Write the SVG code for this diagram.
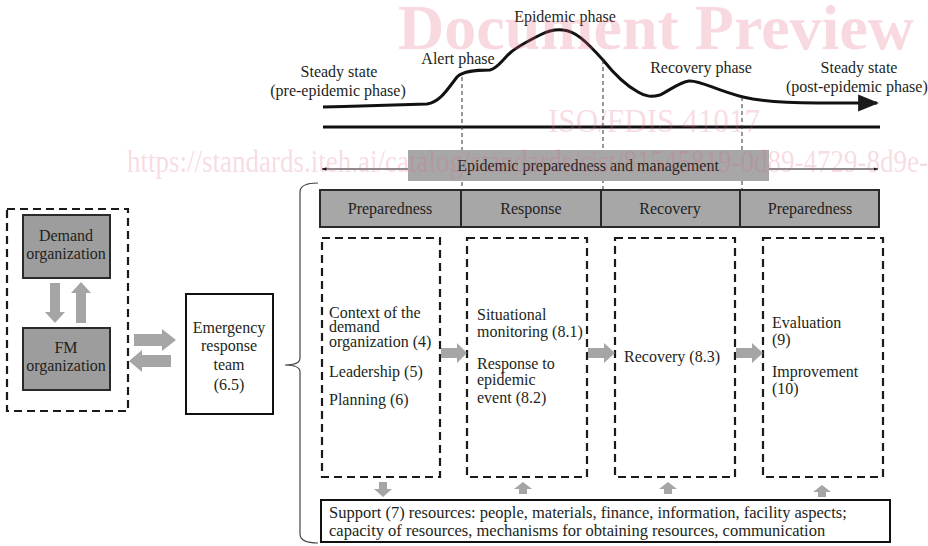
<svg xmlns="http://www.w3.org/2000/svg" width="928" height="546" viewBox="0 0 928 546">
<defs>
<style>
text{font-family:"Liberation Serif","Times New Roman",serif;font-size:16px;fill:#231f20}
.c{text-anchor:middle}
.dash{fill:none;stroke:#1a1a1a;stroke-width:2.2;stroke-dasharray:8,5}
.phase{fill:#a7a7a7;stroke:#2a2a2a;stroke-width:2}
.org{fill:#9d9d9d;stroke:#2a2a2a;stroke-width:2}
.ga{fill:#a5a5a5}
.wm{font-family:"Liberation Serif","Times New Roman",serif;fill:#e0607f;fill-opacity:0.24}
</style>
<marker id="ah" viewBox="0 0 10 10" refX="9" refY="5" markerWidth="7" markerHeight="7" orient="auto-start-reverse">
<path d="M0,1 L10,5 L0,9 z" fill="#1a1a1a"/>
</marker>
<marker id="ahs" viewBox="0 0 10 10" refX="9" refY="5" markerWidth="5" markerHeight="5" orient="auto-start-reverse">
<path d="M0,1.5 L10,5 L0,8.5 z" fill="#1a1a1a"/>
</marker>
</defs>
<rect width="928" height="546" fill="#ffffff"/>

<g id="timeline">
<path d="M323,107 C360,106 400,105 427,104 C440,102 447,90 457,77 C463,71 475,70 490,70 C498,68 503,59 510,53 C518,46 528,41 540,35 C550,30 556,29 563,30 C575,31 585,40 603,60 C615,75 625,85 638,92 C646,97 652,97 660,95 C670,90 680,82 689,81 C700,80 715,90 743,97 C760,101 780,103 817,103 L877,103" fill="none" stroke="#111" stroke-width="3" marker-end="url(#ah)"/>
<line x1="323" y1="127" x2="880" y2="127" stroke="#111" stroke-width="3"/>
<line x1="462" y1="77" x2="462" y2="190" stroke="#333" stroke-width="1" stroke-dasharray="4,3"/>
<line x1="603" y1="60" x2="603" y2="190" stroke="#333" stroke-width="1" stroke-dasharray="4,3"/>
<line x1="742" y1="97" x2="742" y2="190" stroke="#333" stroke-width="1" stroke-dasharray="4,3"/>
<text x="339" y="77" class="c">Steady state</text>
<text x="338" y="96" class="c">(pre-epidemic phase)</text>
<text x="458" y="64" class="c">Alert phase</text>
<text x="565" y="22" class="c">Epidemic phase</text>
<text x="701" y="73" class="c">Recovery phase</text>
<text x="859" y="73" class="c">Steady state</text>
<text x="786" y="92">(post-epidemic phase)</text>
</g>

<g id="epm">
<line x1="322" y1="169" x2="878" y2="169" stroke="#1a1a1a" stroke-width="1" marker-start="url(#ahs)" marker-end="url(#ahs)"/>
<rect x="408" y="150" width="361" height="31" fill="#a7a7a7"/>
<text x="588" y="171" class="c">Epidemic preparedness and management</text>
</g>

<g id="brace">
<path d="M318,183 Q300,183 300,192 L300,358 Q300,365 285,365 Q300,365 300,372 L300,534 Q300,543 318,543" fill="none" stroke="#444" stroke-width="1.2"/>
</g>

<g id="phases">
<rect x="320" y="190" width="141" height="37" class="phase"/>
<rect x="461" y="190" width="140" height="37" class="phase"/>
<rect x="601" y="190" width="139" height="37" class="phase"/>
<rect x="740" y="190" width="139" height="37" class="phase"/>
<text x="390" y="214" class="c">Preparedness</text>
<text x="531" y="214" class="c">Response</text>
<text x="670" y="214" class="c">Recovery</text>
<text x="810" y="214" class="c">Preparedness</text>
</g>

<g id="org-group">
<rect x="7" y="209" width="121" height="202" class="dash"/>
<g id="demand">
<rect x="23" y="215" width="87" height="63" class="org"/>
<text x="66" y="241" class="c">Demand</text>
<text x="66" y="259" class="c">organization</text>
</g>
<g id="fm">
<rect x="23" y="328" width="87" height="62" class="org"/>
<text x="66" y="353" class="c">FM</text>
<text x="66" y="371" class="c">organization</text>
</g>
</g>

<g id="ert">
<rect x="186" y="294" width="87" height="120" fill="#fff" stroke="#111" stroke-width="2"/>
<text x="229" y="333" class="c">Emergency</text>
<text x="229" y="351" class="c">response</text>
<text x="229" y="370" class="c">team</text>
<text x="229" y="390" class="c">(6.5)</text>
</g>

<g id="col1">
<rect x="322" y="238" width="118" height="239" class="dash"/>
<text x="329" y="318">Context of the</text>
<text x="329" y="332">demand</text>
<text x="329" y="347">organization (4)</text>
<text x="329" y="377">Leadership (5)</text>
<text x="329" y="405">Planning (6)</text>
</g>
<g id="col2">
<rect x="467" y="238" width="120" height="239" class="dash"/>
<text x="477" y="320">Situational</text>
<text x="477" y="337">monitoring (8.1)</text>
<text x="477" y="369">Response to</text>
<text x="477" y="385">epidemic</text>
<text x="477" y="403">event (8.2)</text>
</g>
<g id="col3">
<rect x="615" y="238" width="120" height="239" class="dash"/>
<text x="624" y="362">Recovery (8.3)</text>
</g>
<g id="col4">
<rect x="763" y="238" width="120" height="239" class="dash"/>
<text x="772" y="328">Evaluation</text>
<text x="772" y="345">(9)</text>
<text x="772" y="377">Improvement</text>
<text x="772" y="394">(10)</text>
</g>

<g id="support">
<rect x="321" y="500" width="569" height="42" fill="#fff" stroke="#111" stroke-width="2"/>
<text x="329" y="518" style="font-size:16.5px">Support (7) resources: people, materials, finance, information, facility aspects;</text>
<text x="329" y="536" style="font-size:16.5px">capacity of resources, mechanisms for obtaining resources, communication</text>
</g>

<g id="connectors">
<polygon class="ga" points="50,283 60,283 60,312 65,312 55,323 45,312 50,312"/>
<polygon class="ga" points="76,323 86,323 86,293 91,293 81,282 71,293 76,293"/>
<polygon class="ga" points="134,334 162,334 162,329 176,340 162,351 162,346 134,346"/>
<polygon class="ga" points="171,355 142,355 142,350 129,361 142,372 142,367 171,367"/>
<polygon class="ga" points="441,348 457,348 457,343 467,353 457,363 457,358 441,358"/>
<polygon class="ga" points="588,348 604,348 604,343 615,353 604,363 604,358 588,358"/>
<polygon class="ga" points="736,348 752,348 752,343 763,353 752,363 752,358 736,358"/>
<polygon class="ga" points="379,482 387,482 387,489 392,489 383,497 374,489 379,489"/>
<polygon class="ga" points="519,494 527,494 527,489 532,489 523,482 514,489 519,489"/>
<polygon class="ga" points="664,494 672,494 672,489 677,489 668,482 659,489 664,489"/>
<polygon class="ga" points="818,497 826,497 826,492 831,492 822,485 813,492 818,492"/>
</g>

<g id="watermark">
<text x="656" y="49" class="wm c" style="font-size:64px;font-weight:bold">Document Preview</text>
<text x="548" y="132" class="wm" style="font-size:34px" textLength="212" lengthAdjust="spacingAndGlyphs">ISO/FDIS 41017</text>
<text x="127" y="172" class="wm" style="font-size:32px" textLength="801" lengthAdjust="spacingAndGlyphs">https://standards.iteh.ai/catalog/standards/sist/81545819-0d89-4729-8d9e-</text>
</g>
</svg>
